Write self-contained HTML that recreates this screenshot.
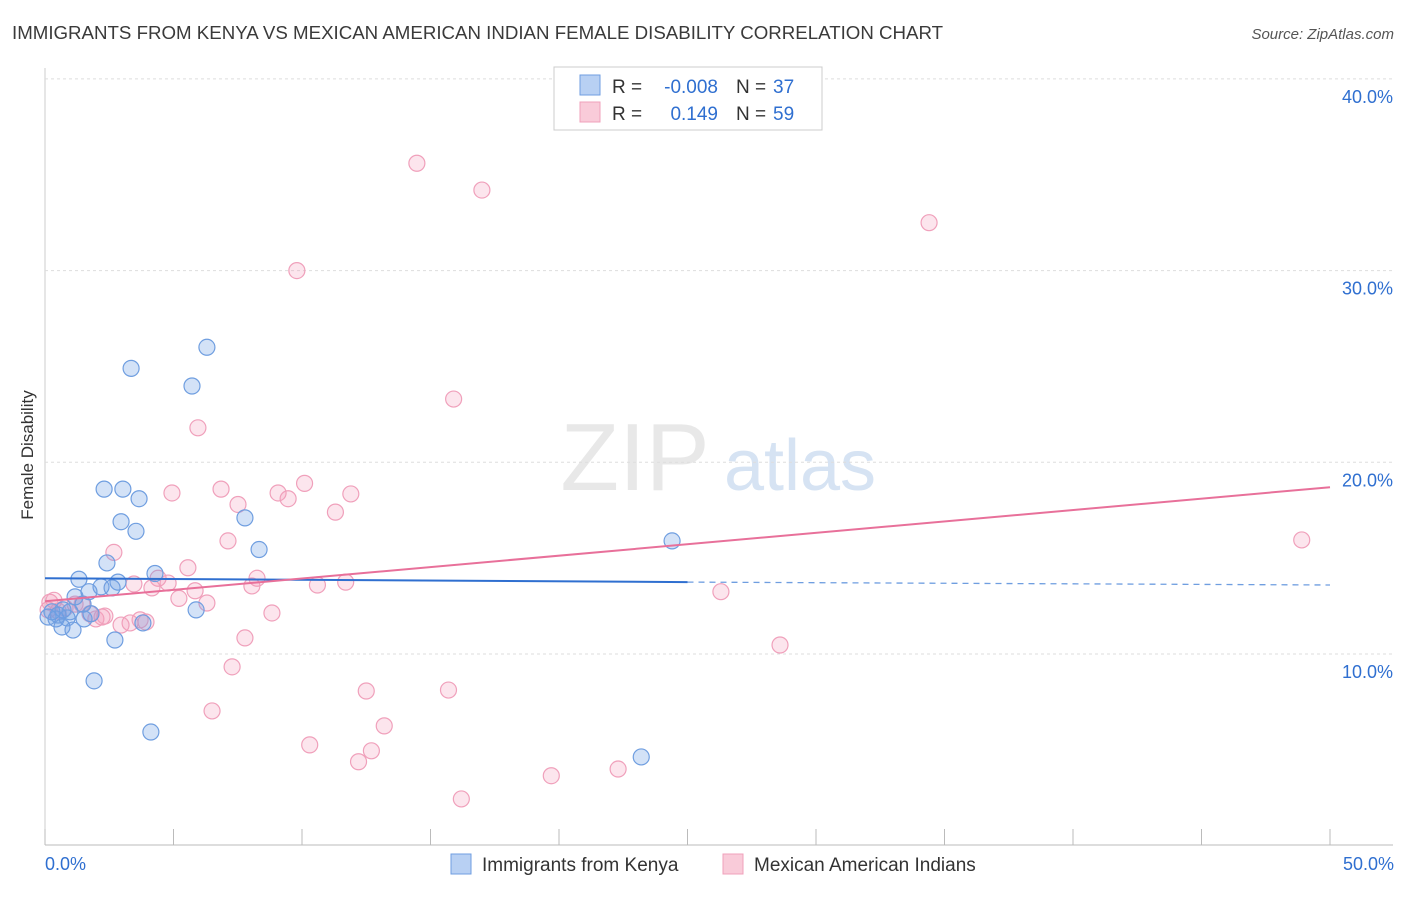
<!DOCTYPE html>
<html><head><meta charset="utf-8"><style>
body{margin:0;background:#fff;font-family:"Liberation Sans",sans-serif;}
svg text{font-family:"Liberation Sans",sans-serif;}
</style></head><body>
<svg id="chart" width="1406" height="892" xmlns="http://www.w3.org/2000/svg">
<text x="12" y="39" font-size="18.7" fill="#3a3a3a">IMMIGRANTS FROM KENYA VS MEXICAN AMERICAN INDIAN FEMALE DISABILITY CORRELATION CHART</text>
<text x="1394" y="39" font-size="15" fill="#555" font-style="italic" text-anchor="end">Source: ZipAtlas.com</text>
<text transform="translate(33,455) rotate(-90)" font-size="17" fill="#333" text-anchor="middle">Female Disability</text>
<g>
<text x="635" y="490" font-size="96" fill="#e8e8e8" font-family="Liberation Serif" text-anchor="middle">ZIP</text>
<text x="800" y="490" font-size="72" fill="#d6e3f3" text-anchor="middle">atlas</text>
</g>
<g id="grid"></g><g id="marks"></g><g id="trends"></g>
<g>
<rect x="554" y="67" width="268" height="63" fill="#fff" stroke="#ccc"/>
<rect x="580" y="75" width="20" height="20" fill="#b8d0f3" stroke="#6f9ee0"/>
<rect x="580" y="102" width="20" height="20" fill="#f9cbd9" stroke="#f0a0bb"/>
<text x="612" y="93" font-size="19" fill="#333">R =</text>
<text x="718" y="93" font-size="19" fill="#2f6fd0" text-anchor="end">-0.008</text>
<text x="736" y="93" font-size="19" fill="#333">N =</text>
<text x="773" y="93" font-size="19" fill="#2f6fd0">37</text>
<text x="612" y="120" font-size="19" fill="#333">R =</text>
<text x="718" y="120" font-size="19" fill="#2f6fd0" text-anchor="end">0.149</text>
<text x="736" y="120" font-size="19" fill="#333">N =</text>
<text x="773" y="120" font-size="19" fill="#2f6fd0">59</text>
</g>
<g>
<rect x="451" y="854" width="20" height="20" fill="#b8d0f3" stroke="#6f9ee0"/>
<text x="482" y="871" font-size="19" fill="#333">Immigrants from Kenya</text>
<rect x="723" y="854" width="20" height="20" fill="#f9cbd9" stroke="#f0a0bb"/>
<text x="754" y="871" font-size="19" fill="#333">Mexican American Indians</text>
</g>
</svg>
<script>
const xTicks=[0,5,10,15,20,25,30,35,40,45,50];
const yTicks=[10,20,30,40];
const blueX=[3.35,6.30,5.72,2.30,3.03,3.66,2.96,7.78,3.54,8.33,2.41,24.4,4.28,1.32,2.84,2.18,2.61,1.71,1.17,1.48,0.27,0.70,0.97,1.79,0.12,0.43,0.86,1.52,3.81,0.66,1.09,2.72,5.88,1.91,4.12,23.2,0.51];
const blueY=[24.9,26.0,23.98,18.6,18.6,18.1,16.9,17.1,16.4,15.45,14.75,15.9,14.2,13.9,13.75,13.5,13.45,13.25,12.98,12.6,12.2,12.3,12.2,12.1,11.93,11.83,11.88,11.83,11.62,11.41,11.25,10.73,12.3,8.6,5.93,4.63,12.03];
const pinkX=[14.47,17.0,34.4,9.8,15.9,5.95,4.94,6.85,9.07,10.1,9.46,11.9,7.51,11.3,7.12,2.68,5.56,8.25,4.4,4.79,3.46,4.16,8.05,10.6,11.7,5.84,5.21,6.3,1.44,8.83,2.22,1.98,2.33,3.31,2.96,3.93,3.7,0.51,0.19,0.78,1.75,7.78,26.3,28.6,7.28,6.5,12.5,15.7,13.2,10.3,12.7,12.2,19.7,22.3,16.2,48.9,0.12,0.35,1.17];
const pinkY=[35.6,34.2,32.5,30.0,23.3,21.8,18.4,18.6,18.4,18.9,18.1,18.35,17.8,17.4,15.9,15.3,14.5,13.95,13.95,13.7,13.65,13.45,13.55,13.6,13.75,13.3,12.9,12.66,12.6,12.14,11.93,11.83,11.98,11.62,11.51,11.67,11.78,12.24,12.7,12.4,12.1,10.84,13.25,10.47,9.33,7.03,8.07,8.12,6.25,5.26,4.95,4.38,3.65,4.0,2.44,15.95,12.3,12.8,12.6];
const blueTrend=[13.95,13.75,13.6]; // at x=0, 25, 50
const pinkTrend=[12.75,18.7]; // at x=0, 50
const X=v=>45+v*25.7, Y=v=>845.7-v*19.17;
const NS="http://www.w3.org/2000/svg";
function mk(t,a,p){const e=document.createElementNS(NS,t);for(const k in a)e.setAttribute(k,a[k]);p.appendChild(e);return e;}
const grid=document.getElementById('grid'),marks=document.getElementById('marks'),trends=document.getElementById('trends');
let ax=mk('line',{x1:45,y1:845,x2:1393,y2:845,stroke:'#bbb'},grid);

let ay=mk('line',{x1:45,y1:68,x2:45,y2:845,stroke:'#ccc'},grid);

xTicks.forEach(t=>{const l=mk('line',{x1:X(t),y1:829,x2:X(t),y2:845,stroke:'#bbb'},grid);
});
[[0,'0.0%','start',45],[50,'50.0%','end',1394]].forEach(([v,s,a,x])=>{const t=mk('text',{x:x,y:870,'font-size':18,fill:'#2f6fd0','text-anchor':a},grid);t.textContent=s;
});
yTicks.forEach(v=>{const l=mk('line',{x1:45,y1:Y(v),x2:1393,y2:Y(v),stroke:'#ddd','stroke-dasharray':'3,3'},grid);

const t=mk('text',{x:1393,y:Y(v)+24,'font-size':18,fill:'#2f6fd0','text-anchor':'end'},grid);t.textContent=v.toFixed(1)+'%';
});
pinkX.forEach((x,i)=>{const c=mk('circle',{cx:X(x),cy:Y(pinkY[i]),r:8,fill:'rgba(244,150,185,0.25)',stroke:'#f0a0bb','stroke-width':1.2},marks);
});
blueX.forEach((x,i)=>{const c=mk('circle',{cx:X(x),cy:Y(blueY[i]),r:8,fill:'rgba(110,160,230,0.3)',stroke:'#6f9ee0','stroke-width':1.2},marks);
});
let b1=mk('line',{x1:X(0),y1:Y(blueTrend[0]),x2:X(25),y2:Y(blueTrend[1]),stroke:'#2f6fd0','stroke-width':2},trends);

let b2=mk('line',{x1:X(25),y1:Y(blueTrend[1]),x2:X(50),y2:Y(blueTrend[2]),stroke:'#6f9ee0','stroke-width':1.3,'stroke-dasharray':'6,5'},trends);

let p1=mk('line',{x1:X(0),y1:Y(pinkTrend[0]),x2:X(50),y2:Y(pinkTrend[1]),stroke:'#e8709a','stroke-width':2},trends);

</script>
</body></html>
